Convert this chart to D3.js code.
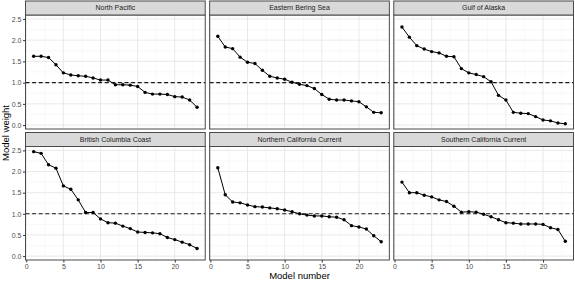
<!DOCTYPE html>
<html><head><meta charset="utf-8">
<script src="https://cdn.jsdelivr.net/npm/d3@7"></script>
<style>body{margin:0;background:#fff}svg{display:block;font-family:"Liberation Sans",Arial,sans-serif}</style>
</head><body><svg id="c" width="575" height="282"></svg>
<script>
const modelNumbers = d3.range(1, 24);
const regions = ["North Pacific","Eastern Bering Sea","Gulf of Alaska","British Columbia Coast","Northern California Current","Southern California Current"];
const northPacific = [1.62,1.62,1.59,1.42,1.23,1.18,1.16,1.15,1.11,1.06,1.06,0.95,0.95,0.94,0.91,0.77,0.73,0.73,0.72,0.67,0.66,0.59,0.42];
const easternBeringSea = [2.09,1.84,1.80,1.60,1.48,1.45,1.29,1.15,1.11,1.08,1.01,0.96,0.93,0.86,0.72,0.61,0.59,0.59,0.57,0.55,0.43,0.30,0.29];
const gulfOfAlaska = [2.31,2.07,1.87,1.79,1.73,1.70,1.62,1.61,1.33,1.23,1.19,1.14,1.02,0.70,0.59,0.30,0.28,0.27,0.20,0.12,0.10,0.05,0.03];
const britishColumbia = [2.47,2.43,2.16,2.08,1.66,1.58,1.33,1.03,1.03,0.88,0.79,0.78,0.71,0.65,0.57,0.56,0.55,0.53,0.44,0.39,0.33,0.27,0.18];
const northernCalifornia = [2.09,1.45,1.28,1.26,1.21,1.17,1.16,1.14,1.12,1.09,1.05,1.00,0.97,0.95,0.95,0.93,0.92,0.86,0.72,0.69,0.64,0.48,0.34];
const southernCalifornia = [1.75,1.50,1.50,1.44,1.40,1.33,1.29,1.18,1.04,1.05,1.04,0.99,0.93,0.86,0.79,0.78,0.76,0.76,0.76,0.75,0.67,0.63,0.35];
const seriesValues = [northPacific, easternBeringSea, gulfOfAlaska, britishColumbia, northernCalifornia, southernCalifornia];
const xTicks = [0,5,10,15,20];
const yTicks = [0.0,0.5,1.0,1.5,2.0,2.5];
const referenceWeight = 1;

const svg = d3.select("#c");
const left = 25.5, right = 573.5, gapX = 4.4;
const pw = (right - left - 2*gapX) / 3;
const rows = [{stripTop:1, top:15, bottom:129},{stripTop:132.5, top:146.5, bottom:260}];

const allVals = seriesValues.flat();
const yMin = d3.min(allVals), yMax = d3.max(allVals);
const yExp = (yMax - yMin) * 0.05;
const xExp = (23 - 1) * 0.05;

regions.forEach((name, i) => {
  const col = i % 3, row = Math.floor(i / 3);
  const r = rows[row];
  const x0 = left + col * (pw + gapX);
  const x = d3.scaleLinear().domain([1 - xExp, 23 + xExp]).range([x0, x0 + pw]);
  const y = d3.scaleLinear().domain([yMin - yExp, yMax + yExp]).range([r.bottom, r.top]);
  const g = svg.append("g");
  g.append("rect").attr("x", x0).attr("y", r.top).attr("width", pw).attr("height", r.bottom - r.top).attr("fill", "#fff");
  const xMinor = xTicks.map(t => t + 2.5).filter(t => t <= 23 + xExp);
  const yMinor = yTicks.map(t => t + 0.25).filter(t => t <= yMax + yExp);
  g.selectAll(".xm").data(xMinor).join("line").attr("x1", d => x(d)).attr("x2", d => x(d)).attr("y1", r.top).attr("y2", r.bottom).attr("stroke", "#f3f3f3").attr("stroke-width", 0.6);
  g.selectAll(".ym").data(yMinor).join("line").attr("y1", d => y(d)).attr("y2", d => y(d)).attr("x1", x0).attr("x2", x0 + pw).attr("stroke", "#f3f3f3").attr("stroke-width", 0.6);
  g.selectAll(".xM").data(xTicks).join("line").attr("x1", d => x(d)).attr("x2", d => x(d)).attr("y1", r.top).attr("y2", r.bottom).attr("stroke", "#e6e6e6").attr("stroke-width", 0.9);
  g.selectAll(".yM").data(yTicks).join("line").attr("y1", d => y(d)).attr("y2", d => y(d)).attr("x1", x0).attr("x2", x0 + pw).attr("stroke", "#e6e6e6").attr("stroke-width", 0.9);
  g.append("line").attr("x1", x0).attr("x2", x0 + pw).attr("y1", y(referenceWeight)).attr("y2", y(referenceWeight))
    .attr("stroke", "#1a1a1a").attr("stroke-width", 1.1).attr("stroke-dasharray", "4,2.6");
  const vals = seriesValues[i];
  const pts = modelNumbers.map((m, k) => [m, vals[k]]);
  g.append("path").datum(pts).attr("fill", "none").attr("stroke", "#000").attr("stroke-width", 1)
    .attr("d", d3.line().x(d => x(d[0])).y(d => y(d[1])));
  g.selectAll(".pt").data(pts).join("circle").attr("cx", d => x(d[0])).attr("cy", d => y(d[1])).attr("r", 1.7).attr("fill", "#000");
  g.append("rect").attr("x", x0).attr("y", r.top).attr("width", pw).attr("height", r.bottom - r.top).attr("fill", "none").attr("stroke", "#4a4a4a").attr("stroke-width", 1);
  g.append("rect").attr("x", x0).attr("y", r.stripTop).attr("width", pw).attr("height", r.top - r.stripTop).attr("fill", "#d9d9d9").attr("stroke", "#4a4a4a").attr("stroke-width", 1);
  g.append("text").attr("x", x0 + pw / 2).attr("y", (r.stripTop + r.top) / 2).attr("dy", "0.35em").attr("text-anchor", "middle")
    .attr("font-size", 7).attr("fill", "#1a1a1a").text(name);
  if (col === 0) {
    const ax = d3.axisLeft(y).tickValues(yTicks).tickFormat(d3.format(".1f")).tickSize(2.5).tickPadding(1.5);
    const a = svg.append("g").attr("transform", `translate(${x0},0)`).call(ax);
    a.select(".domain").remove();
    a.selectAll("line").attr("stroke", "#333");
    a.selectAll("text").attr("font-size", 7).attr("fill", "#4d4d4d").attr("font-family", "Liberation Sans, Arial, sans-serif");
  }
  if (row === 1) {
    const ax = d3.axisBottom(x).tickValues(xTicks).tickFormat(d3.format("d")).tickSize(2.5).tickPadding(1.5);
    const a = svg.append("g").attr("transform", `translate(0,${r.bottom})`).call(ax);
    a.select(".domain").remove();
    a.selectAll("line").attr("stroke", "#333");
    a.selectAll("text").attr("font-size", 7).attr("fill", "#4d4d4d").attr("font-family", "Liberation Sans, Arial, sans-serif");
  }
});

svg.append("text").attr("x", (left + right) / 2).attr("y", 278.5).attr("text-anchor", "middle").attr("font-size", 9.5).attr("fill", "#000").text("Model number");
svg.append("text").attr("transform", `translate(8.5,133) rotate(-90)`).attr("text-anchor", "middle").attr("font-size", 9.5).attr("fill", "#000").text("Model weight");
</script></body></html>
